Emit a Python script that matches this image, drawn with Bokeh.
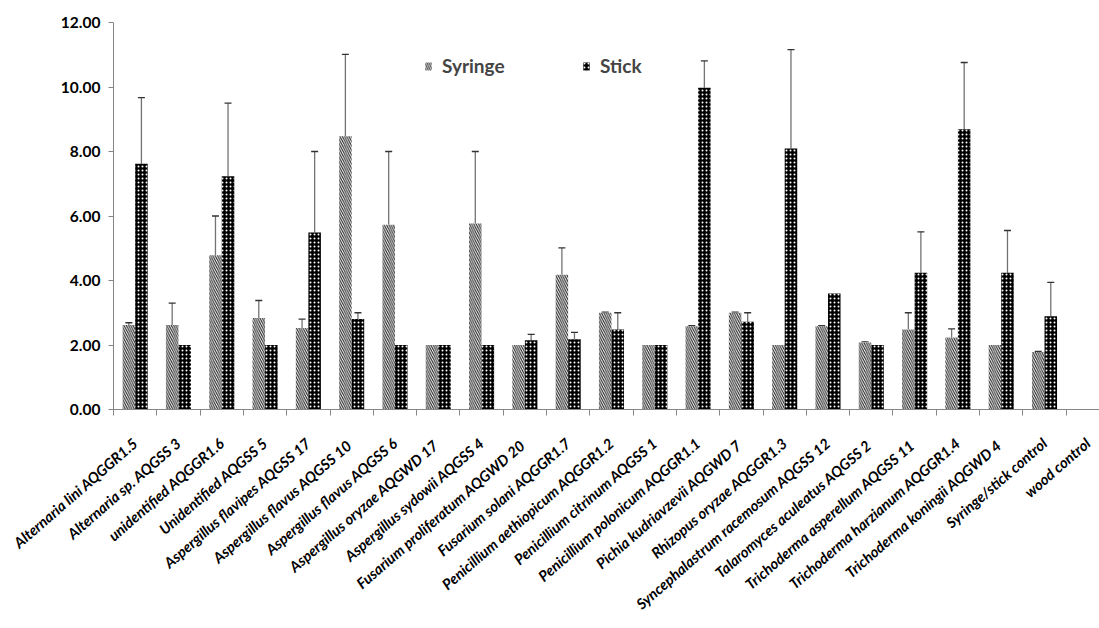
import math
from bokeh.plotting import figure
from bokeh.models import (Range1d, FixedTicker, NumeralTickFormatter, ColumnDataSource,
                          Whisker, TeeHead, Legend, LegendItem)
from bokeh.embed import file_html
from bokeh.resources import INLINE

categories = [
    "Alternaria lini AQGGR1.5", "Alternaria sp. AQGSS 3", "unidentified AQGGR1.6",
    "Unidentified AQGSS 5", "Aspergillus flavipes AQGSS 17", "Aspergillus flavus  AQGSS 10",
    "Aspergillus flavus AQGSS 6", "Aspergillus oryzae  AQGWD 17", "Aspergillus sydowii AQGSS 4",
    "Fusarium proliferatum  AQGWD 20", "Fusarium solani AQGGR1.7", "Penicillium aethiopicum AQGGR1.2",
    "Penicillium citrinum AQGSS 1", "Penicillium polonicum AQGGR1.1", "Pichia kudriavzevii  AQGWD 7",
    "Rhizopus oryzae AQGGR1.3", "Syncephalastrum racemosum AQGSS 12", "Talaromyces aculeatus  AQGSS 2",
    "Trichoderma asperellum  AQGSS 11", "Trichoderma harzianum AQGGR1.4", "Trichoderma koningii  AQGWD 4",
    "Syringe/stick control", "wood control",
]
syringe = [2.62, 2.62, 4.78, 2.84, 2.53, 8.47, 5.73, 2.00, 5.77, 2.00, 4.18, 3.00,
           2.00, 2.58, 3.00, 2.00, 2.58, 2.08, 2.48, 2.23, 2.00, 1.78, 0.0]
syringe_err = [0.07, 0.68, 1.22, 0.54, 0.27, 2.54, 2.27, 0.0, 2.23, 0.0, 0.83, 0.02,
               0.0, 0.02, 0.02, 0.0, 0.02, 0.02, 0.52, 0.27, 0.0, 0.02, 0.0]
stick = [7.62, 2.00, 7.23, 2.00, 5.49, 2.81, 2.00, 2.00, 2.00, 2.15, 2.18, 2.48,
         2.00, 9.98, 2.72, 8.09, 3.60, 2.00, 4.24, 8.69, 4.24, 2.89, 0.0]
stick_err = [2.05, 0.0, 2.27, 0.0, 2.51, 0.19, 0.0, 0.0, 0.0, 0.18, 0.21, 0.52,
             0.0, 0.83, 0.28, 3.07, 0.0, 0.0, 1.27, 2.07, 1.31, 1.05, 0.0]
y_ticks = [0, 2, 4, 6, 8, 10, 12]

FONT = "Lato"
n = len(categories)
idx = list(range(n))
off = 0.145
bw = 0.289

p = figure(frame_width=986, frame_height=387, x_range=Range1d(-0.5, 22.27), y_range=Range1d(0, 12),
           output_backend="svg", toolbar_location=None,
           min_border_left=113, min_border_right=0, min_border_top=22, min_border_bottom=211)
p.outline_line_color = None
p.xgrid.visible = False
p.ygrid.visible = False

xs_syr = [i - off for i in idx]
xs_stk = [i + off for i in idx]

src_syr = ColumnDataSource(dict(x=xs_syr, top=syringe))
src_stk = ColumnDataSource(dict(x=xs_stk, top=stick))

r_syr = p.vbar(x="x", top="top", width=bw, source=src_syr, fill_color="white", line_color=None,
               hatch_pattern="\\", hatch_color="#262626", hatch_scale=4.5, hatch_weight=1.1)
r_stk = p.vbar(x="x", top="top", width=bw, source=src_stk, fill_color="black", line_color=None,
               hatch_pattern=".", hatch_color="white", hatch_scale=4, hatch_weight=1)

# error bars (upper only)
wx, wl, wu = [], [], []
for xs, vals, errs in ((xs_syr, syringe, syringe_err), (xs_stk, stick, stick_err)):
    for x, v, e in zip(xs, vals, errs):
        if e > 0:
            wx.append(x); wl.append(v); wu.append(v + e)
src_w = ColumnDataSource(dict(base=wx, lower=wl, upper=wu))
w = Whisker(base="base", lower="lower", upper="upper", source=src_w, dimension="height",
            line_color="#737373", line_width=1.3,
            upper_head=TeeHead(size=7, line_color="#333333", line_width=1.3), lower_head=None)
p.add_layout(w)

# y axis
ya = p.yaxis[0]
ya.ticker = FixedTicker(ticks=y_ticks, minor_ticks=[])
ya.formatter = NumeralTickFormatter(format="0.00")
ya.major_label_text_font = FONT
ya.major_label_text_font_style = "bold"
ya.major_label_text_font_size = "15.5px"
ya.major_label_text_color = "black"
ya.axis_line_color = "#868686"
ya.major_tick_line_color = "#868686"
ya.major_tick_out = 5
ya.major_tick_in = 0
ya.minor_tick_line_color = None
ya.major_label_standoff = 8

# x axis
xa = p.xaxis[0]
xa.ticker = FixedTicker(ticks=idx, minor_ticks=[i - 0.5 for i in range(n + 1)])
xa.major_label_overrides = {i: c for i, c in enumerate(categories)}
xa.major_label_orientation = math.radians(41)
xa.major_label_text_font = FONT
xa.major_label_text_font_style = "bold italic"
xa.major_label_text_font_size = "14.8px"
xa.major_label_text_color = "black"
xa.axis_line_color = "#868686"
xa.major_tick_line_color = None
xa.major_tick_out = 0
xa.major_tick_in = 0
xa.minor_tick_line_color = "#868686"
xa.minor_tick_out = 6
xa.minor_tick_in = 0
xa.major_label_standoff = 25

def make_legend(label, rend, x):
    return Legend(items=[LegendItem(label=label, renderers=[rend])], location=(x, 332),
                  orientation="horizontal", border_line_color=None, background_fill_alpha=0,
                  padding=0, margin=0, glyph_width=8, glyph_height=10, label_standoff=10,
                  label_text_font=FONT, label_text_font_style="bold", label_text_font_size="19px",
                  label_height=20)

p.add_layout(make_legend("Syringe", r_syr, 311))
p.add_layout(make_legend("Stick", r_stk, 469))

open("out.html", "w").write(file_html(p, INLINE))
